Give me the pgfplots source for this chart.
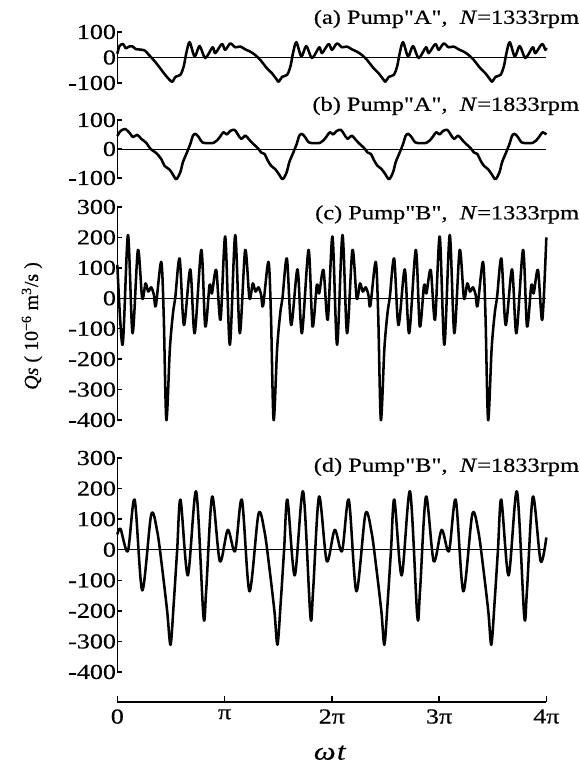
\documentclass[border=0pt]{standalone}
\usepackage{pgfplots}
\pgfplotsset{compat=1.18}
\usepackage{fontspec}
\setmainfont[FakeStretch=1.22, FakeBold=0.5, Ligatures=TeXOff]{Liberation Serif}
\newfontfamily\plainserif[FakeBold=0.5]{Liberation Serif}
\newcommand\lbl{\fontsize{15}{17}\selectfont}
\newcommand\tkl{\fontsize{16}{18}\selectfont}

\pgfplotsset{
  panel/.style={
    scale only axis, width=321.75pt, xmin=0, xmax=4,
    axis x line=none, axis y line=left,
    axis line style={-, line width=1.2pt},
    every outer y axis line/.append style={-},
    tick align=inside, major tick length=3.5pt,
    tick style={black, line width=1.1pt},
    xtick=\empty,
    yticklabel style={font=\tkl, xshift=2.5pt},
    clip=false,
  },
  curve/.style={black, line width=1.9pt, smooth, tension=0.5, line join=round},
  zero/.style={black, line width=0.6pt},
}

\begin{document}
\begin{tikzpicture}
\path[use as bounding box] (0,0) rectangle (435pt,577.5pt);

% (a)
\begin{axis}[panel, at={(88pt,515.25pt)}, anchor=south west, height=38.25pt,
  ymin=-100, ymax=100, ytick={-100,0,100}, yticklabels={-100,0,100}]
\addplot[zero] coordinates {(0,0) (4,0)};
\addplot[curve] coordinates {
(0,15)(0.02,45)(0.054,53)(0.078,36)(0.109,43)(0.14,44)(0.171,33)(0.217,31)(0.257,27)(0.288,13)(0.326,-4)(0.372,-27)(0.419,-53)(0.456,-73)
(0.51,-95)(0.541,-76)(0.588,-68)(0.619,-35)(0.643,17)(0.674,60)(0.721,4)(0.767,45)(0.82,-2)(0.888,40)(0.913,17)(0.975,53)(1.006,30)(1.053,55)(1.099,40)(1.146,43)(1.192,32)(1.239,23)(1.285,10)(1.332,-9)(1.394,-42)(1.44,-61)(1.487,-87)
(1.505,-95)(1.536,-76)(1.583,-68)(1.614,-35)(1.638,17)(1.669,60)(1.716,4)(1.762,45)(1.815,-2)(1.883,40)(1.908,17)(1.97,53)(2.001,30)(2.048,55)(2.094,40)(2.141,43)(2.187,32)(2.234,23)(2.28,10)(2.327,-9)(2.389,-42)(2.435,-61)(2.482,-87)
(2.5,-95)(2.531,-76)(2.578,-68)(2.609,-35)(2.633,17)(2.664,60)(2.711,4)(2.757,45)(2.81,-2)(2.878,40)(2.903,17)(2.965,53)(2.996,30)(3.043,55)(3.089,40)(3.136,43)(3.182,32)(3.229,23)(3.275,10)(3.322,-9)(3.384,-42)(3.43,-61)(3.477,-87)
(3.495,-95)(3.526,-76)(3.573,-68)(3.604,-35)(3.628,17)(3.659,60)(3.706,4)(3.752,45)(3.805,-2)(3.873,40)(3.898,17)(3.96,53)(3.991,30)(4,38)
};
\end{axis}

% (b)
\begin{axis}[panel, at={(88pt,444pt)}, anchor=south west, height=43.5pt,
  ymin=-100, ymax=100, ytick={-100,0,100}, yticklabels={-100,0,100}]
\addplot[zero] coordinates {(0,0) (4,0)};
\addplot[curve] coordinates {
(0,45)(0.03,62)(0.074,69)(0.115,55)(0.146,41)(0.186,49)(0.223,35)(0.27,21)(0.31,0)(0.363,-14)(0.41,-35)(0.44,-58)(0.487,-71)(0.518,-88)
(0.55,-104)(0.587,-80)(0.612,-45)(0.649,-12)(0.68,17)(0.705,46)(0.73,52)(0.761,40)(0.792,23)(0.845,20)(0.897,21)(0.928,29)(0.959,43)(0.99,58)(1.021,50)(1.052,62)(1.093,66)(1.124,50)(1.155,35)(1.195,46)(1.232,31)(1.269,17)(1.31,3)(1.341,-12)(1.372,-17)(1.403,-40)(1.434,-58)(1.471,-69)(1.505,-86)
(1.542,-104)(1.579,-80)(1.604,-45)(1.641,-12)(1.672,17)(1.697,46)(1.722,52)(1.753,40)(1.784,23)(1.837,20)(1.889,21)(1.92,29)(1.951,43)(1.982,58)(2.013,50)(2.044,62)(2.085,66)(2.116,50)(2.147,35)(2.187,46)(2.224,31)(2.261,17)(2.302,3)(2.333,-12)(2.364,-17)(2.395,-40)(2.426,-58)(2.463,-69)(2.497,-86)
(2.534,-104)(2.571,-80)(2.596,-45)(2.633,-12)(2.664,17)(2.689,46)(2.714,52)(2.745,40)(2.776,23)(2.829,20)(2.881,21)(2.912,29)(2.943,43)(2.974,58)(3.005,50)(3.036,62)(3.077,66)(3.108,50)(3.139,35)(3.179,46)(3.216,31)(3.253,17)(3.294,3)(3.325,-12)(3.356,-17)(3.387,-40)(3.418,-58)(3.455,-69)(3.489,-86)
(3.526,-104)(3.563,-80)(3.588,-45)(3.625,-12)(3.656,17)(3.681,46)(3.706,52)(3.737,40)(3.768,23)(3.821,20)(3.873,21)(3.904,29)(3.935,43)(3.966,58)(4,50)
};
\end{axis}

% (c)
\begin{axis}[panel, at={(88pt,262.5pt)}, anchor=south west, height=159.75pt,
  ymin=-400, ymax=300, ytick={-400,-300,...,300},
  yticklabels={-400,-300,-200,-100,0,100,200,300}]
\addplot[zero] coordinates {(0,0) (4,0)};
\addplot[curve] coordinates {
(0,110)(0.049,-153)(0.099,208)(0.142,-115)(0.192,159)(0.232,0)(0.263,49)(0.288,22)(0.316,36)(0.341,11)(0.359,-25)(0.409,120)(0.432,-50)
(0.457,-400)(0.49,-165)(0.519,-49)(0.541,5)(0.581,131)(0.621,-88)(0.68,95)(0.721,-115)(0.783,159)(0.82,-93)(0.86,44)(0.882,16)(0.922,93)(0.962,-71)(1.006,203)(1.049,-153)(1.099,208)(1.142,-115)(1.192,159)(1.232,0)(1.263,49)(1.288,22)(1.316,36)(1.341,11)(1.359,-25)(1.409,120)(1.432,-50)
(1.457,-400)(1.49,-165)(1.519,-49)(1.541,5)(1.581,131)(1.621,-88)(1.68,95)(1.721,-115)(1.783,159)(1.82,-93)(1.86,44)(1.882,16)(1.922,93)(1.962,-71)(2.006,203)(2.049,-153)(2.099,208)(2.142,-115)(2.192,159)(2.232,0)(2.263,49)(2.288,22)(2.316,36)(2.341,11)(2.359,-25)(2.409,120)(2.432,-50)
(2.457,-400)(2.49,-165)(2.519,-49)(2.541,5)(2.581,131)(2.621,-88)(2.68,95)(2.721,-115)(2.783,159)(2.82,-93)(2.86,44)(2.882,16)(2.922,93)(2.962,-71)(3.006,203)(3.049,-153)(3.099,208)(3.142,-115)(3.192,159)(3.232,0)(3.263,49)(3.288,22)(3.316,36)(3.341,11)(3.359,-25)(3.409,120)(3.432,-50)
(3.457,-400)(3.49,-165)(3.519,-49)(3.541,5)(3.581,131)(3.621,-88)(3.68,95)(3.721,-115)(3.783,159)(3.82,-93)(3.86,44)(3.882,16)(3.922,93)(3.962,-71)(4,200)
};
\end{axis}

% (d)
\begin{axis}[panel, at={(88pt,73.5pt)}, anchor=south west, height=160.5pt,
  ymin=-400, ymax=300, ytick={-400,-300,...,300},
  yticklabels={-400,-300,-200,-100,0,100,200,300}]
\addplot[zero] coordinates {(0,0) (4,0)};
\addplot[curve] coordinates {
(0,50)(0.03,68)(0.098,-5)(0.161,164)(0.232,-133)(0.316,115)(0.372,60)(0.418,-60)(0.465,-202)
(0.496,-311)(0.527,-169)(0.558,0)(0.589,164)(0.657,-84)(0.735,191)(0.803,-218)(0.828,-136)(0.884,174)(0.956,-38)(1.03,65)(1.098,-5)(1.161,164)(1.232,-136)(1.316,117)(1.372,60)(1.418,-60)(1.465,-202)
(1.493,-311)(1.524,-169)(1.555,0)(1.586,164)(1.654,-84)(1.732,191)(1.8,-218)(1.825,-136)(1.881,174)(1.953,-38)(2.027,65)(2.095,-5)(2.158,164)(2.229,-136)(2.313,117)(2.369,60)(2.415,-60)(2.462,-202)
(2.49,-311)(2.521,-169)(2.552,0)(2.583,164)(2.651,-84)(2.729,191)(2.797,-218)(2.822,-136)(2.878,174)(2.95,-38)(3.024,65)(3.092,-5)(3.155,164)(3.226,-136)(3.31,117)(3.366,60)(3.412,-60)(3.459,-202)
(3.487,-311)(3.518,-169)(3.549,0)(3.58,164)(3.648,-84)(3.726,191)(3.794,-218)(3.819,-136)(3.875,174)(3.947,-38)(4,40)
};
\end{axis}

% common x axis
\begin{axis}[scale only axis, width=321.75pt, height=20pt, at={(88pt,51pt)}, anchor=south west,
  xmin=0, xmax=4, ymin=0, ymax=1,
  axis x line=bottom, axis y line=none,
  axis line style={-, line width=1.2pt},
  every outer x axis line/.append style={-},
  tick align=inside, major tick length=4.5pt,
  tick style={black, line width=1.1pt},
  xtick={0,1,2,3,4}, xticklabels={0,π,2π,3π,4π},
  xticklabel style={font=\tkl, yshift=-2pt}, ytick=\empty]
\end{axis}

\node[font=\fontsize{19}{20}\selectfont] at (247.5pt,13pt) {\textit{ω}\kern1pt\textit{t}};
\node[rotate=90, font=\plainserif\fontsize{15}{17}\selectfont] at (24pt,333pt)
  {\textit{Qs} ( 10\textsuperscript{−6} m\textsuperscript{3}/s )};

\node[anchor=east, inner sep=0pt, font=\lbl] at (434.5pt,563.25pt) {(a) Pump"A",\ \ \textit{N}=1333rpm};
\node[anchor=east, inner sep=0pt, font=\lbl] at (434.5pt,498pt) {(b) Pump"A",\ \ \textit{N}=1833rpm};
\node[anchor=east, inner sep=0pt, font=\lbl] at (434.5pt,416.6pt) {(c) Pump"B",\ \ \textit{N}=1333rpm};
\node[anchor=east, inner sep=0pt, font=\lbl] at (434.5pt,227.25pt) {(d) Pump"B",\ \ \textit{N}=1833rpm};
\end{tikzpicture}
\end{document}
